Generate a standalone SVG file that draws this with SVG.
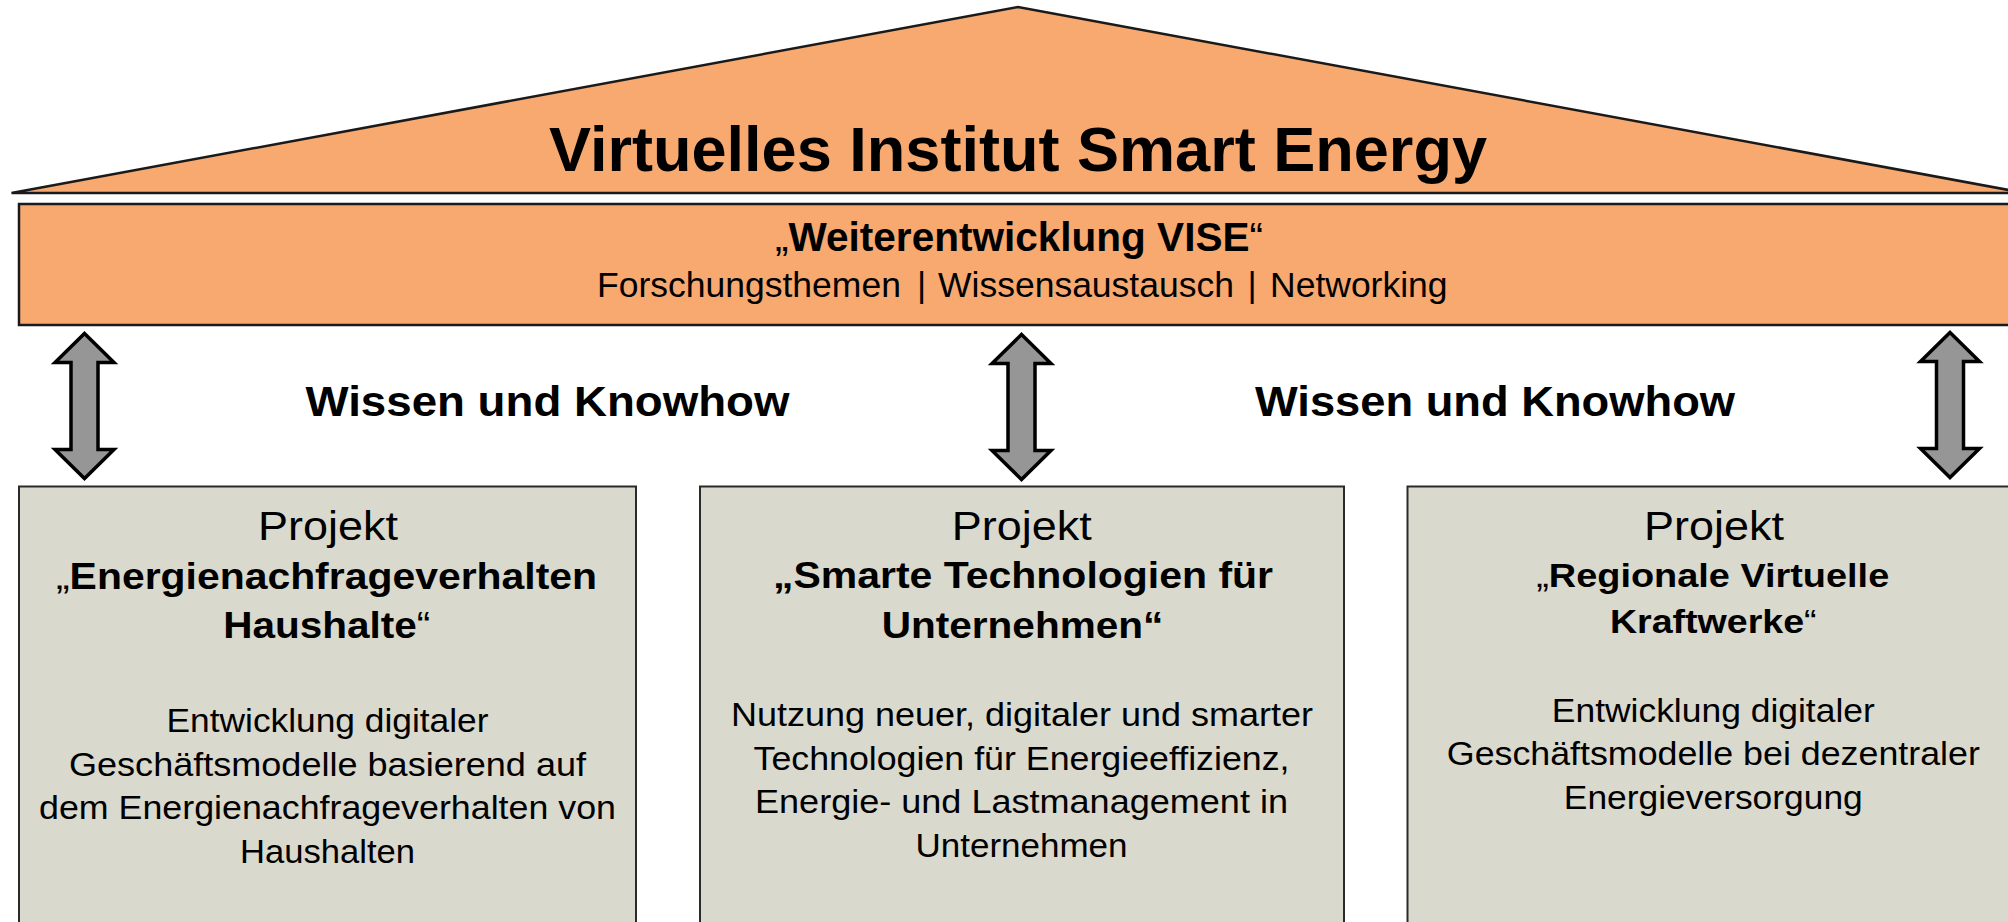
<svg xmlns="http://www.w3.org/2000/svg" width="2008" height="922" viewBox="0 0 2008 922">
  <style>
    text { font-family: "Liberation Sans", Arial, Helvetica, sans-serif; fill: #000; }
    .c { text-anchor: middle; }
    .b { font-weight: bold; }
    .n { font-weight: normal; }
    .orange { fill: #F7A970; stroke: #1a1a1a; stroke-width: 2.5; }
    .box { fill: #DAD9CD; stroke: #2a2a2a; stroke-width: 2; }
    .arrow { fill: #969696; stroke: #000; stroke-width: 3.5; stroke-linejoin: miter; }
  </style>
  <defs>
    <path id="dblarrow" d="M0,0 L29.5,29 L13.5,29 L13.5,116 L29.5,116 L0,145 L-29.5,116 L-13.5,116 L-13.5,29 L-29.5,29 Z"/>
  </defs>

  <rect x="0" y="0" width="2008" height="922" fill="#FFFFFF"/>

  <g id="roof">
    <polygon class="orange" points="11.5,193 1018,7 2025,193"/>
    <text class="c b" x="1018" y="171" font-size="63.5" textLength="938" lengthAdjust="spacingAndGlyphs">Virtuelles Institut Smart Energy</text>
  </g>

  <g id="band">
    <rect class="orange" x="19" y="204" width="2001" height="121"/>
    <text class="c" x="1019" y="251" font-size="40.5" textLength="488" lengthAdjust="spacingAndGlyphs"><tspan class="n">„</tspan><tspan class="b">Weiterentwicklung VISE</tspan><tspan class="n">“</tspan></text>
    <text x="597" y="297" font-size="35.5">Forschungsthemen</text>
    <text class="c" x="921.5" y="297" font-size="35.5">|</text>
    <text x="938" y="297" font-size="35.5">Wissensaustausch</text>
    <text class="c" x="1252" y="297" font-size="35.5">|</text>
    <text x="1270" y="297" font-size="35.5">Networking</text>
  </g>

  <g id="connectors">
    <use href="#dblarrow" class="arrow" x="84.5" y="333.5"/>
    <use href="#dblarrow" class="arrow" x="1021.5" y="334.5"/>
    <use href="#dblarrow" class="arrow" x="1950" y="332.5"/>
  </g>

  <g id="label-left">
    <text class="c b" x="547.5" y="415.5" font-size="42" textLength="484" lengthAdjust="spacingAndGlyphs">Wissen und Knowhow</text>
  </g>
  <g id="label-right">
    <text class="c b" x="1495" y="415.5" font-size="42" textLength="480" lengthAdjust="spacingAndGlyphs">Wissen und Knowhow</text>
  </g>

  <g id="project-1">
    <rect class="box" x="19" y="486.5" width="617" height="450"/>
    <text class="c" x="328" y="539.5" font-size="40" textLength="140" lengthAdjust="spacingAndGlyphs">Projekt</text>
    <text class="c" x="326.5" y="588.5" font-size="37" textLength="541" lengthAdjust="spacingAndGlyphs"><tspan class="n">„</tspan><tspan class="b">Energienachfrageverhalten</tspan></text>
    <text class="c" x="326.7" y="637.5" font-size="37" textLength="207" lengthAdjust="spacingAndGlyphs"><tspan class="b">Haushalte</tspan><tspan class="n">“</tspan></text>
    <text class="c" x="327.5" y="731.5" font-size="34" textLength="322" lengthAdjust="spacingAndGlyphs">Entwicklung digitaler</text>
    <text class="c" x="327.5" y="775.5" font-size="34" textLength="517" lengthAdjust="spacingAndGlyphs">Geschäftsmodelle basierend auf</text>
    <text class="c" x="327.5" y="819" font-size="34" textLength="577" lengthAdjust="spacingAndGlyphs">dem Energienachfrageverhalten von</text>
    <text class="c" x="327.5" y="862.5" font-size="34" textLength="175" lengthAdjust="spacingAndGlyphs">Haushalten</text>
  </g>

  <g id="project-2">
    <rect class="box" x="700" y="486.5" width="644" height="450"/>
    <text class="c" x="1021.7" y="540" font-size="40" textLength="140" lengthAdjust="spacingAndGlyphs">Projekt</text>
    <text class="c b" x="1023" y="588" font-size="37" textLength="500" lengthAdjust="spacingAndGlyphs">„Smarte Technologien für</text>
    <text class="c b" x="1022.5" y="637.5" font-size="37" textLength="281.6" lengthAdjust="spacingAndGlyphs">Unternehmen“</text>
    <text class="c" x="1022" y="726" font-size="34" textLength="582" lengthAdjust="spacingAndGlyphs">Nutzung neuer, digitaler und smarter</text>
    <text class="c" x="1021.5" y="769.5" font-size="34" textLength="536" lengthAdjust="spacingAndGlyphs">Technologien für Energieeffizienz,</text>
    <text class="c" x="1021.5" y="813" font-size="34" textLength="533" lengthAdjust="spacingAndGlyphs">Energie- und Lastmanagement in</text>
    <text class="c" x="1021.5" y="856.5" font-size="34" textLength="212" lengthAdjust="spacingAndGlyphs">Unternehmen</text>
  </g>

  <g id="project-3">
    <rect class="box" x="1407.5" y="486.5" width="612" height="450"/>
    <text class="c" x="1714" y="539.5" font-size="40" textLength="140" lengthAdjust="spacingAndGlyphs">Projekt</text>
    <text class="c" x="1712.7" y="586.5" font-size="33" textLength="353" lengthAdjust="spacingAndGlyphs"><tspan class="n">„</tspan><tspan class="b">Regionale Virtuelle</tspan></text>
    <text class="c" x="1713.3" y="632.5" font-size="33" textLength="206.7" lengthAdjust="spacingAndGlyphs"><tspan class="b">Kraftwerke</tspan><tspan class="n">“</tspan></text>
    <text class="c" x="1713.3" y="721.5" font-size="34" textLength="323" lengthAdjust="spacingAndGlyphs">Entwicklung digitaler</text>
    <text class="c" x="1713.3" y="765" font-size="34" textLength="533" lengthAdjust="spacingAndGlyphs">Geschäftsmodelle bei dezentraler</text>
    <text class="c" x="1713.3" y="808.5" font-size="34" textLength="299" lengthAdjust="spacingAndGlyphs">Energieversorgung</text>
  </g>
</svg>
